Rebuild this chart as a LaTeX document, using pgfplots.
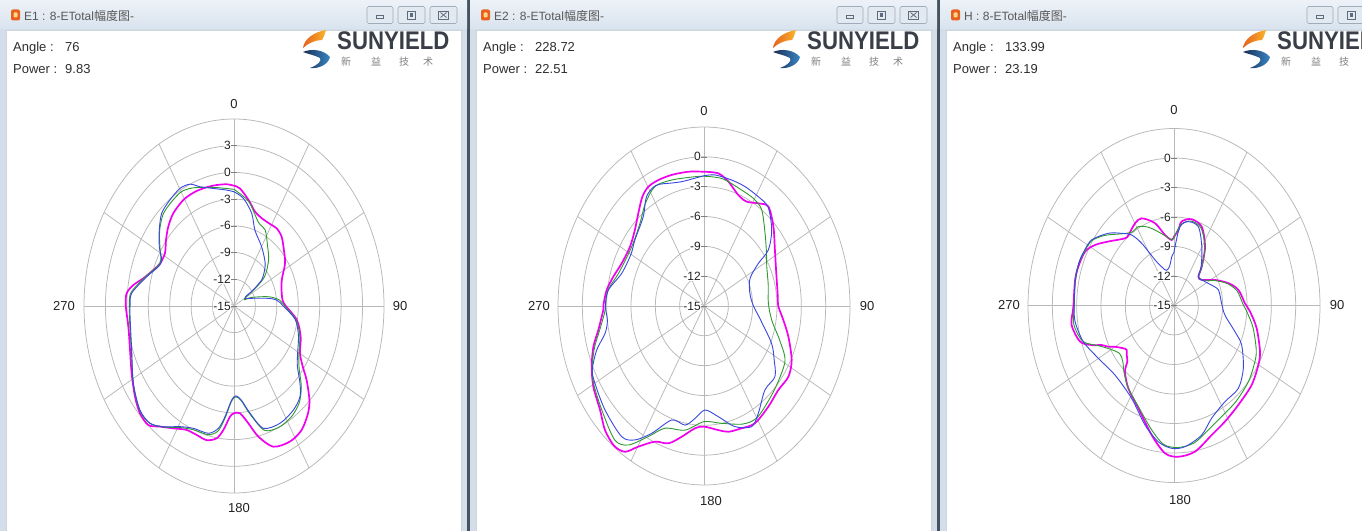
\documentclass[border=0pt]{standalone}
\usepackage{fontspec}
\setmainfont{Liberation Sans}
\newfontfamily\cjkfont{Noto Sans CJK SC}
\usepackage{graphicx}
\usepackage{pgfplots}
\pgfplotsset{compat=1.18}
\usepackage{pgfplotstable}

\definecolor{gridc}{HTML}{B8B8B8}
\definecolor{framec}{HTML}{D3DEEA}
\definecolor{titletop}{HTML}{EDF2F8}
\definecolor{titlebot}{HTML}{D9E3EE}
\definecolor{sepc}{HTML}{45525F}
\definecolor{btnfill}{HTML}{E3E9F0}
\definecolor{btnedge}{HTML}{9EACBB}
\definecolor{iconc}{HTML}{5E6B7A}
\definecolor{magc}{HTML}{F000EE}
\definecolor{grnc}{HTML}{2E9A2E}
\definecolor{bluc}{HTML}{3A46E0}
\definecolor{txtc}{HTML}{2E2E2E}
\definecolor{labc}{HTML}{222222}
\definecolor{logotxt}{HTML}{3A3E47}
\definecolor{orangeA}{HTML}{F9B52A}
\definecolor{orangeB}{HTML}{E7601D}
\definecolor{blueA}{HTML}{3A86C4}
\definecolor{blueB}{HTML}{1A2C52}

\pgfplotstableread{
a r
0 -1.49
3.6 -1.77
9.6 -2.9
15.5 -4.0
21.4 -4.4
28.7 -4.5
34.4 -4.43
40.6 -4.75
48 -5.6
56.2 -6.4
66.4 -7.7
78 -8.17
87.6 -8.0
100 -6.08
110.3 -5.05
119.9 -4.34
125.3 -3.2
129.3 -1.86
135 -0.07
139.3 0.89
145.8 1.84
152.8 2.12
160.8 1.73
166.9 0.06
171.3 -1.67
176 -2.92
180 -2.95
182.6 -2.56
186.1 -1.0
189.3 0.06
194.3 0.54
199.8 0.4
205.5 0.42
211.7 1.15
217.4 2.05
221.9 2.96
227.5 2.85
233.7 2.2
242.2 1.2
251.3 0.37
261 -0.03
270 0.15
275.4 0.1
279.5 -0.72
283.8 -1.94
289.7 -3.0
294.8 -3.6
301.5 -3.66
307.9 -2.94
314 -2.2
320.8 -1.56
329.2 -1.14
336.9 -1.06
344 -1.13
349.8 -1.2
355.7 -1.29
360 -1.49
}\EoneM
\pgfplotstableread{
a r
0 -1.9
10 -3.1
20 -5.0
27 -5.4
35 -6.8
43 -7.9
52 -9.5
56 -11.2
59 -13.0
64 -13.4
69 -12.3
78 -10.0
84 -8.6
90 -7.9
100 -6.2
110 -5.2
120 -4.5
127 -3.6
134 -1.9
140 -0.8
147 -0.2
155 0.0
163 -0.4
169.4 -2.6
174.5 -4.3
178.5 -4.8
181.8 -4.3
185.8 -2.3
189 -0.8
194 -0.1
202 0.0
209 0.6
216 1.8
222 2.7
228.4 2.65
238 1.6
251 0.2
265 -0.3
270 -0.35
276 -0.5
285 -2.2
292.6 -3.4
297 -3.5
302.5 -2.7
309 -1.6
316 -0.7
323 -0.4
330 -0.2
336 -0.5
342 -1.0
350 -1.5
360 -1.9
}\EoneG
\pgfplotstableread{
a r
0 -2.17
6.2 -2.84
13.4 -4.3
19 -6.0
30.1 -7.3
42.2 -8.5
50 -9.6
53 -10.15
56 -11.7
57 -13.0
62 -13.2
69 -12.6
79.4 -10.3
83.6 -9.0
90 -8.1
100 -6.3
110 -5.4
120 -4.7
127 -3.9
133.3 -2.3
137.8 -1.25
144.5 -0.66
153.9 -0.34
163.3 -0.66
169.4 -2.74
174.5 -4.4
178.5 -4.9
181.8 -4.44
185.8 -2.5
189 -1.1
194.1 -0.26
202.5 -0.13
209.2 0.52
216.1 1.78
221.8 2.65
228.4 2.6
238.3 1.56
251 0.15
265.3 -0.4
270 -0.45
275.7 -0.6
285 -2.34
292.6 -3.53
297 -3.64
302.5 -2.6
309.2 -1.5
315.8 -0.48
323 -0.09
330.2 0.22
335.8 0.0
340.4 -0.78
347.6 -1.48
355.5 -1.94
360 -2.17
}\EoneB
\pgfplotstableread{
a r
0 -1.5
7.5 -1.54
13.5 -2.13
20.8 -3.07
26.6 -3.26
33 -2.69
38.5 -2.24
47 -3.3
57.2 -4.6
69.7 -5.5
84 -5.85
90 -5.85
98.2 -5.12
106.5 -4.15
116.7 -2.9
124.3 -2.4
132.7 -2.54
141.9 -2.14
152 -1.64
159.3 -1.86
166.6 -2.0
172 -2.4
180 -2.87
185.2 -2.65
191.8 -1.57
197.6 -0.51
203.9 -0.08
209.8 1.3
213.6 2.6
218.3 2.9
224.4 2.45
230.8 1.54
239.2 0.88
246.2 0.13
253.3 -0.76
259.5 -1.75
268.2 -2.58
270.5 -2.6
277.6 -2.89
284.8 -3.44
292.9 -3.98
303.1 -4.1
311.9 -3.55
319 -2.65
325.4 -1.63
330.3 -1.18
336 -1.14
343.2 -1.23
351.9 -1.36
360 -1.5
}\EtwoM
\pgfplotstableread{
a r
0 -1.95
10 -2.0
21.7 -2.45
30 -2.6
36.4 -3.0
45.8 -4.5
55 -5.6
62.8 -6.3
75 -6.8
88 -7.06
100 -6.5
110 -5.1
118.6 -3.62
130 -3.1
140 -2.6
150 -2.0
158 -2.2
169.5 -3.0
180 -3.37
190.6 -2.3
201.4 -1.8
207.6 -0.18
213.7 1.8
219.2 2.4
230 1.4
240 0.7
246 0.1
253 -0.9
260 -2.0
268 -2.8
277 -3.0
288 -4.0
303.8 -4.28
316.5 -3.53
325 -2.4
333.3 -1.55
342.6 -1.72
355 -1.95
360 -1.95
}\EtwoG
\pgfplotstableread{
a r
0 -1.9
5.9 -1.75
15 -1.88
22.8 -1.97
31.3 -2.13
38.5 -2.3
47.5 -3.68
54.6 -5.27
57.4 -7.05
63.3 -8.6
71.7 -9.1
80 -9.2
90 -8.9
101.2 -7.9
114.3 -5.86
122 -4.8
129.1 -3.73
138.3 -3.7
148.2 -2.3
154.2 -1.52
162.5 -2.28
171 -3.73
179.3 -4.54
185.6 -3.64
191 -2.8
199.1 -2.87
206.7 -0.67
212.3 0.93
217.7 1.6
229.4 1.07
240 0.53
245 0.2
251.5 -1.05
257.3 -2.5
263 -3.0
270 -2.85
277.7 -3.1
287.9 -4.33
300 -4.6
307.9 -4.2
320.2 -3.3
327.3 -1.9
334 -1.5
342 -2.0
347.6 -2.2
355 -2.1
360 -1.9
}\EtwoB
\pgfplotstableread{
a r
0 -8.0
4 -7.3
6.3 -6.4
13.9 -5.96
23.1 -6.29
32.6 -7.9
40.9 -9.78
45.7 -10.8
52.8 -10.7
62.9 -9.3
71.4 -7.9
78.7 -6.9
88.6 -6.25
93.8 -5.6
102.8 -4.55
113.9 -3.4
120.2 -2.97
130.2 -2.47
141.9 -2.15
152 -1.63
160.6 -1.03
170.1 0.08
178 0.39
184.2 0.07
191.8 -1.54
202.8 -3.66
213.8 -4.87
221.9 -5.95
225.3 -6.9
229.2 -7.3
232.2 -7.62
235.1 -7.39
240 -6.6
242.6 -5.88
245.7 -5.23
248.4 -4.07
252.4 -2.85
261.1 -2.22
269 -2.58
282 -2.53
288.5 -2.56
296.5 -2.74
302.3 -3.48
308.7 -4.6
318.4 -5.87
321.8 -5.9
330.1 -5.36
335.8 -5.28
344.3 -6.3
351.2 -7.75
357.5 -8.33
360 -8.0
}\EthreeM
\pgfplotstableread{
a r
0 -8.1
6 -6.7
14 -6.15
23 -6.45
33 -8.0
41 -9.8
46 -10.8
53 -10.7
63 -9.4
71 -8.1
79 -7.1
89 -6.5
94 -6.0
103 -5.0
114 -3.9
120 -3.5
130 -3.0
142 -2.6
152 -2.3
161 -1.7
170 -0.8
178 -0.55
185 -0.8
192 -2.0
203 -3.8
214 -4.9
222 -5.8
228 -6.5
234 -6.7
241 -5.9
246 -4.9
252 -3.2
261 -2.5
270 -2.7
282 -2.55
290 -2.5
297 -2.7
303 -2.9
310 -3.9
318 -5.2
325 -5.9
331.3 -5.86
338 -6.4
345 -7.2
352 -7.9
357.5 -8.3
360 -8.1
}\EthreeG
\pgfplotstableread{
a r
0 -9.6
1.2 -9.0
5.3 -6.95
11.7 -6.29
20.6 -6.45
29.8 -8.1
40 -9.8
45.7 -10.8
55 -10.6
65 -10.0
73.9 -9.3
87.9 -9.13
98.8 -8.65
109.5 -7.03
115.7 -5.75
126.8 -4.33
136.7 -3.43
147.3 -3.37
158 -2.63
165.5 -1.39
174.6 -0.58
181.1 -0.47
187.9 -1.0
196.4 -2.33
208.9 -4.2
225.8 -4.85
240 -4.24
251.8 -3.23
262.4 -2.69
270 -2.7
280 -2.6
290 -2.5
296 -2.6
303.3 -2.85
312.2 -4.07
318.7 -5.23
323.9 -6.13
327.8 -7.53
333.2 -9.8
339 -10.8
345 -11.3
352 -11.0
357 -10.0
360 -9.6
}\EthreeB

\newcommand\mkPolPlot[2]{\addplot[#1] table[x expr={(\thisrow{r}+15)*sin(\thisrow{a})}, y expr={(\thisrow{r}+15)*cos(\thisrow{a})}] {#2};}
\newcommand\mkGrid[1]{%
  \pgfplotsinvokeforeach{0,30,...,330}{%
    \draw[gridc, line width=0.75pt] (axis cs:0,0) -- (axis cs:{#1*sin(##1)},{#1*cos(##1)});}%
  \pgfplotsinvokeforeach{3,6,...,#1}{%
    \draw[gridc, line width=0.75pt] (axis cs:0,0) ellipse [x radius=##1, y radius=##1];}%
}
\newcommand\mkRL[2]{%
  \draw[gray, line width=0.6pt] ([xshift=-3pt]axis cs:0,#1) -- ([xshift=2.5pt]axis cs:0,#1);
  \node[anchor=east, inner sep=0.5pt, fill=white, text=labc, font=\fontsize{12}{12}\selectfont, xshift=-2.5pt] at (axis cs:0,#1) {#2};}
\newcommand\mkAng[6]{%
  \node[text=labc, font=\fontsize{13}{13}\selectfont, yshift=#2] at (axis cs:0,#1) {0};
  \node[text=labc, font=\fontsize{13}{13}\selectfont, yshift=-#3, xshift=#4] at (axis cs:0,-#1) {180};
  \node[text=labc, font=\fontsize{13}{13}\selectfont, xshift=-#5] at (axis cs:-#1,0) {270};
  \node[text=labc, font=\fontsize{13}{13}\selectfont, xshift=#6] at (axis cs:#1,0) {90};}

\pgfplotsset{polbox/.style n args={3}{scale only axis, width=#2, height=#3,
    xmin=-#1, xmax=#1, ymin=-#1, ymax=#1, hide axis, clip=false, anchor=center}}

\newcommand\mkBtn[2]{\filldraw[fill=btnfill, draw=btnedge, rounded corners=1.5pt, line width=0.6pt] (#1,507.5) rectangle (#2,524.5);}

\newcommand\mkLogo{%
  \begin{scope}[shift={(316,482)}]
    \shade[left color=orangeB, right color=orangeA] (10,19) .. controls (-2,17) and (-12,10) .. (-13,1) .. controls (-8,6) and (0,9) .. (6,9) .. controls (8,12) and (9,16) .. cycle;
    \shade[left color=blueB, right color=blueA] (-13,-3) .. controls (-4,1) and (8,-1) .. (14,-8) .. controls (12,-16) and (2,-20) .. (-6,-19) .. controls (2,-16) and (6,-12) .. (4,-9) .. controls (-2,-6) and (-8,-5) .. cycle;
  \end{scope}
  \node[anchor=base west, inner sep=0pt, text=logotxt] at (337,481) {\scalebox{0.87}[1]{\fontsize{25.5}{25.5}\selectfont\bfseries SUNYIELD}};
  \node[text=gray, font=\cjkfont\fontsize{10}{10}\selectfont] at (346,469) {新};
  \node[text=gray, font=\cjkfont\fontsize{10}{10}\selectfont] at (376,469) {益};
  \node[text=gray, font=\cjkfont\fontsize{10}{10}\selectfont] at (404,469) {技};
  \node[text=gray, font=\cjkfont\fontsize{10}{10}\selectfont] at (428,469) {术};
}

\newcommand\mkWin[4]{%
  \begin{scope}[xshift=#1pt]
    \fill[framec] (0,0) rectangle (467,531);
    \shade[top color=titletop, bottom color=titlebot] (0,502) rectangle (467,531);
    \fill[white] (6,0) rectangle (461,501);
    \draw[btnedge!50, line width=0.5pt] (6,0) -- (6,501) -- (461,501) -- (461,0);
    \fill[orangeB, rounded corners=2pt] (11,510.5) rectangle (20,521.5);
    \fill[orangeA!55!white, rounded corners=1pt] (13.5,513.5) rectangle (17.5,518.5);
    \node[anchor=west, inner sep=0pt, text=txtc!80, font=\fontsize{12}{12}\selectfont] at (24,515.5) {#2 : 8-ETotal{\cjkfont 幅度图}-};
    \mkBtn{367}{393}\mkBtn{398}{425}\mkBtn{430}{457}
    \draw[iconc, line width=0.8pt] (376.5,512.5) rectangle (383.5,515.5);
    \draw[iconc, line width=0.8pt] (407.5,512) rectangle (415.5,520);
    \fill[iconc] (409.7,514.2) rectangle (413.3,517.8);
    \draw[iconc, line width=0.7pt] (438.5,512) rectangle (448.5,520);
    \draw[iconc, line width=0.8pt] (440.5,513.5) -- (446.5,518.5) (440.5,518.5) -- (446.5,513.5);
    \node[anchor=base west, inner sep=0pt, text=txtc, font=\fontsize{13}{13}\selectfont] at (13,479.5) {Angle :};
    \node[anchor=base west, inner sep=0pt, text=txtc, font=\fontsize{13}{13}\selectfont] at (65,479.5) {#3};
    \node[anchor=base west, inner sep=0pt, text=txtc, font=\fontsize{13}{13}\selectfont] at (13,457.7) {Power :};
    \node[anchor=base west, inner sep=0pt, text=txtc, font=\fontsize{13}{13}\selectfont] at (65,457.7) {#4};
    \mkLogo
  \end{scope}}

\begin{document}
\begin{tikzpicture}[x=1pt, y=1pt]
\path[use as bounding box] (0,0) rectangle (1362,531);
\clip (0,0) rectangle (1362,531);
\fill[sepc] (0,0) rectangle (1362,531);
\mkWin{0}{E1}{76}{9.83}
\mkWin{470}{E2}{228.72}{22.51}
\mkWin{940}{H}{133.99}{23.19}

\begin{axis}[polbox={21}{300pt}{374pt}, at={(234pt,225pt)}]
  \mkGrid{21}
  \mkRL{18}{3}\mkRL{15}{0}\mkRL{12}{-3}\mkRL{9}{-6}\mkRL{6}{-9}\mkRL{3}{-12}\mkRL{0}{-15}
  \mkAng{21}{15pt}{15pt}{5pt}{20pt}{16pt}
  \mkPolPlot{magc, line width=1.7pt, smooth, tension=0.5}{\EoneM}
  \mkPolPlot{grnc, line width=0.9pt, smooth, tension=0.5}{\EoneG}
  \mkPolPlot{bluc, line width=0.9pt, smooth, tension=0.5}{\EoneB}
\end{axis}

\begin{axis}[polbox={18}{292pt}{358pt}, at={(704pt,225pt)}]
  \mkGrid{18}
  \mkRL{15}{0}\mkRL{12}{-3}\mkRL{9}{-6}\mkRL{6}{-9}\mkRL{3}{-12}\mkRL{0}{-15}
  \mkAng{18}{16pt}{16pt}{7pt}{19pt}{17pt}
  \mkPolPlot{magc, line width=1.7pt, smooth, tension=0.5}{\EtwoM}
  \mkPolPlot{grnc, line width=0.9pt, smooth, tension=0.5}{\EtwoG}
  \mkPolPlot{bluc, line width=0.9pt, smooth, tension=0.5}{\EtwoB}
\end{axis}

\begin{axis}[polbox={18}{292pt}{354pt}, at={(1174pt,225.5pt)}]
  \mkGrid{18}
  \mkRL{15}{0}\mkRL{12}{-3}\mkRL{9}{-6}\mkRL{6}{-9}\mkRL{3}{-12}\mkRL{0}{-15}
  \mkAng{18}{18pt}{18pt}{6pt}{19pt}{17pt}
  \mkPolPlot{magc, line width=1.7pt, smooth, tension=0.5}{\EthreeM}
  \mkPolPlot{grnc, line width=0.9pt, smooth, tension=0.5}{\EthreeG}
  \mkPolPlot{bluc, line width=0.9pt, smooth, tension=0.5}{\EthreeB}
\end{axis}
\end{tikzpicture}
\end{document}
